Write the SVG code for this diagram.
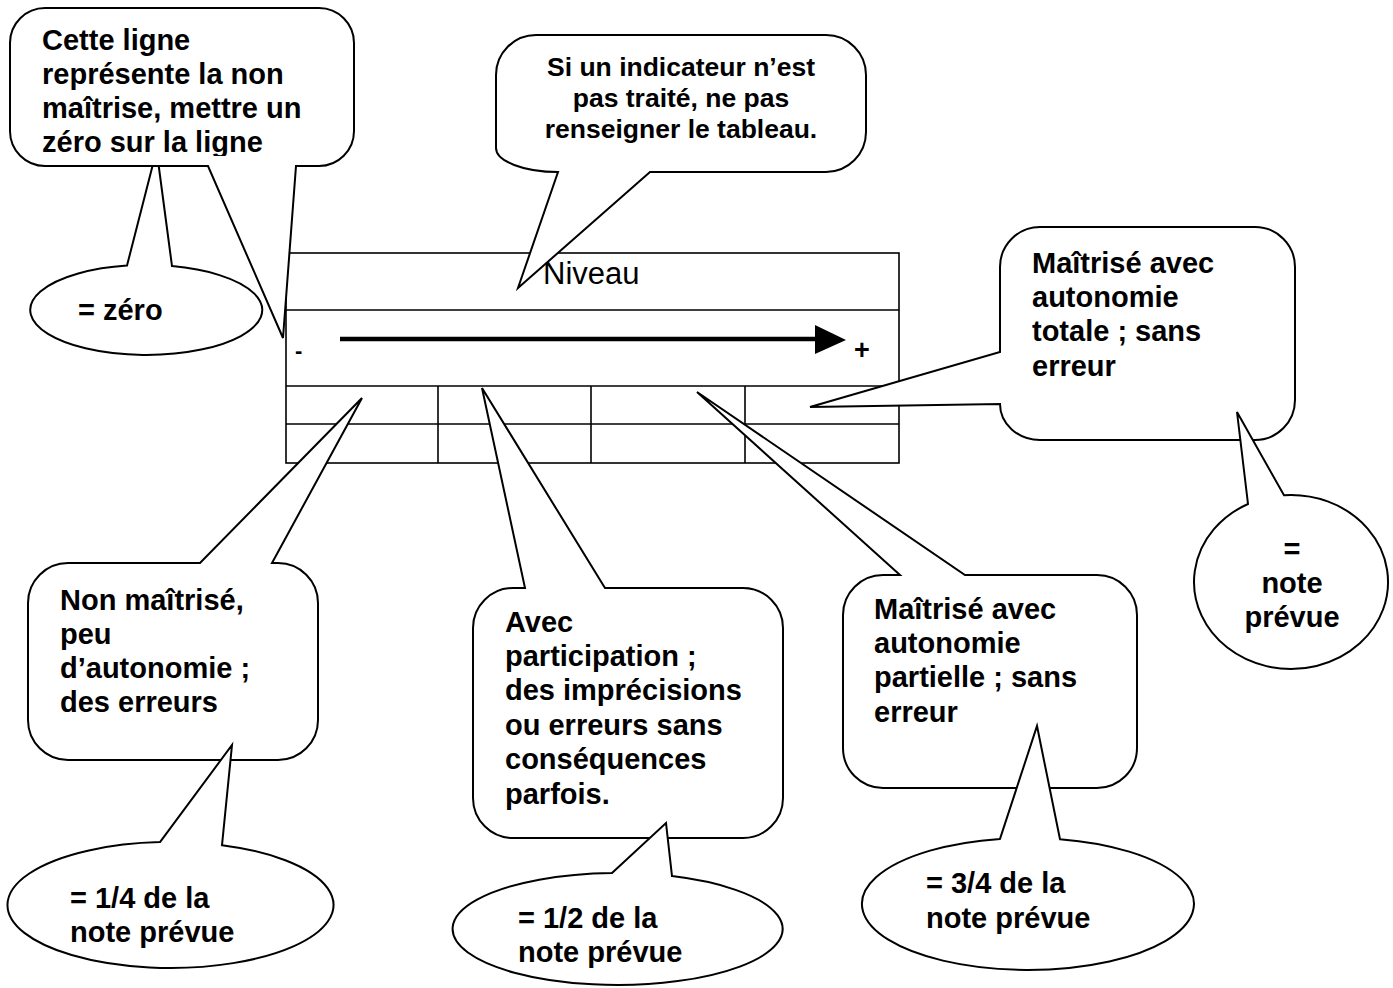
<svg xmlns="http://www.w3.org/2000/svg" width="1393" height="988" viewBox="0 0 1393 988">
<style>
.bub{fill:#fff;stroke:#000;stroke-width:2;stroke-linejoin:miter}
.tbl{fill:none;stroke:#000;stroke-width:1.6}
.t{font-family:"Liberation Sans",Arial,sans-serif;font-weight:bold;font-size:29px;fill:#000}
.tm{font-family:"Liberation Sans",Arial,sans-serif;font-weight:bold;font-size:26.5px;fill:#000}
.c{text-anchor:middle}
</style>
<defs>
<clipPath id="clipTL"><rect x="10" y="8" width="344" height="148"/></clipPath>
</defs>
<rect width="1393" height="988" fill="#fff"/>

<g id="table">
<rect class="tbl" x="286" y="253" width="613" height="210"/>
<line class="tbl" x1="286" y1="310" x2="899" y2="310"/>
<line class="tbl" x1="286" y1="386" x2="899" y2="386"/>
<line class="tbl" x1="286" y1="424" x2="899" y2="424"/>
<line class="tbl" x1="438" y1="386" x2="438" y2="463"/>
<line class="tbl" x1="591" y1="386" x2="591" y2="463"/>
<line class="tbl" x1="745" y1="386" x2="745" y2="463"/>
<text x="543" y="284" font-family="Liberation Sans,Arial,sans-serif" font-size="31">Niveau</text>
<text x="295" y="358" font-family="Liberation Sans,Arial,sans-serif" font-weight="bold" font-size="22">-</text>
<text x="854" y="359" font-family="Liberation Sans,Arial,sans-serif" font-weight="bold" font-size="27">+</text>
</g>

<g id="connectors">
<line x1="340" y1="339" x2="818" y2="339" stroke="#000" stroke-width="4.5"/>
<polygon points="815,325 846,340 815,354" fill="#000"/>
</g>

<g id="note-zero">
<path class="bub" d="M127,265.6 L156.6,150 L172,266.1 A116,45 0 1 1 127,265.6 Z"/>
<text class="t" x="78" y="320">= zéro</text>
</g>

<g id="callout-non-maitrise-ligne">
<path class="bub" d="M45,8 H319 A35,35 0 0 1 354,43 V131 A35,35 0 0 1 319,166 H296 L283,338 L208,166 H45 A35,35 0 0 1 10,131 V43 A35,35 0 0 1 45,8 Z"/>
<g clip-path="url(#clipTL)">
<text class="t" x="42" y="50">Cette ligne</text>
<text class="t" x="42" y="84">représente la non</text>
<text class="t" x="42" y="118">maîtrise, mettre un</text>
<text class="t" x="42" y="152">zéro sur la ligne</text>
</g>
</g>

<g id="callout-indicateur">
<path class="bub" d="M536,35 H826 A40,40 0 0 1 866,75 V132 A40,40 0 0 1 826,172 H650 L518,288 L558,172 A62,24 0 0 1 496,148 V75 A40,40 0 0 1 536,35 Z"/>
<text class="tm c" x="681" y="76">Si un indicateur n’est</text>
<text class="tm c" x="681" y="107">pas traité, ne pas</text>
<text class="tm c" x="681" y="138">renseigner le tableau.</text>
</g>

<g id="callout-autonomie-totale">
<path class="bub" d="M1040,227 H1255 A40,40 0 0 1 1295,267 V400 A40,40 0 0 1 1255,440 H1040 A40,36 0 0 1 1000,404 L810,407 L1000,352 V267 A40,40 0 0 1 1040,227 Z"/>
<text class="t" x="1032" y="273">Maîtrisé avec</text>
<text class="t" x="1032" y="307">autonomie</text>
<text class="t" x="1032" y="341">totale ; sans</text>
<text class="t" x="1032" y="376">erreur</text>
</g>

<g id="note-prevue">
<path class="bub" d="M1248,504 L1237,412 L1284,495.2 A97,87 0 1 1 1248,504 Z"/>
<text class="t c" x="1292" y="559">=</text>
<text class="t c" x="1292" y="593">note</text>
<text class="t c" x="1292" y="627">prévue</text>
</g>

<g id="callout-non-maitrise">
<path class="bub" d="M68,563 H200 L362,398 L272,563 H278 A40,40 0 0 1 318,603 V720 A40,40 0 0 1 278,760 H68 A40,40 0 0 1 28,720 V603 A40,40 0 0 1 68,563 Z"/>
<text class="t" x="60" y="610">Non maîtrisé,</text>
<text class="t" x="60" y="644">peu</text>
<text class="t" x="60" y="678">d’autonomie ;</text>
<text class="t" x="60" y="712">des erreurs</text>
</g>

<g id="note-quart">
<path class="bub" d="M160,842.1 L232,745 L222,845.2 A163,63 0 1 1 160,842.1 Z"/>
<text class="t" x="70" y="908">= 1/4 de la</text>
<text class="t" x="70" y="942">note prévue</text>
</g>

<g id="callout-participation">
<path class="bub" d="M513,588 H525 L482,388 L605,588 H743 A40,40 0 0 1 783,628 V798 A40,40 0 0 1 743,838 H513 A40,40 0 0 1 473,798 V628 A40,40 0 0 1 513,588 Z"/>
<text class="t" x="505" y="632">Avec</text>
<text class="t" x="505" y="666">participation ;</text>
<text class="t" x="505" y="700">des imprécisions</text>
<text class="t" x="505" y="735">ou erreurs sans</text>
<text class="t" x="505" y="769">conséquences</text>
<text class="t" x="505" y="804">parfois.</text>
</g>

<g id="note-demi">
<path class="bub" d="M612,873 L666,823 L672,876.1 A165,56 0 1 1 612,873 Z"/>
<text class="t" x="518" y="928">= 1/2 de la</text>
<text class="t" x="518" y="962">note prévue</text>
</g>

<g id="callout-autonomie-partielle">
<path class="bub" d="M883,575 H900 L697,392 L965,575 H1097 A40,40 0 0 1 1137,615 V748 A40,40 0 0 1 1097,788 H883 A40,40 0 0 1 843,748 V615 A40,40 0 0 1 883,575 Z"/>
<text class="t" x="874" y="619">Maîtrisé avec</text>
<text class="t" x="874" y="653">autonomie</text>
<text class="t" x="874" y="687">partielle ; sans</text>
<text class="t" x="874" y="722">erreur</text>
</g>

<g id="note-trois-quarts">
<path class="bub" d="M1000,838.9 L1037,726 L1060,839.2 A166,66 0 1 1 1000,838.9 Z"/>
<text class="t" x="926" y="893">= 3/4 de la</text>
<text class="t" x="926" y="928">note prévue</text>
</g>
</svg>
